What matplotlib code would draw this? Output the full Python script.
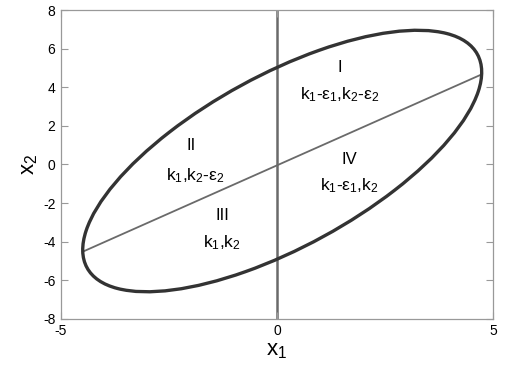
import matplotlib
matplotlib.use("Agg")
import matplotlib.pyplot as plt
from matplotlib.patches import Ellipse

# ellipse (center, full axes lengths, rotation in degrees)
ELL_CENTER = (0.12, 0.18)
ELL_WIDTH = 15.25
ELL_HEIGHT = 6.02
ELL_ANGLE = 60.0

# chord joining the leftmost and rightmost points of the ellipse
chord_x = [-4.50, 4.74]
chord_y = [-4.52, 4.67]

# region labels
region_names = ["I", "II", "III", "IV"]
region_codes = [
    "$k_1$-$ε_1$,$k_2$-$ε_2$",
    "$k_1$,$k_2$-$ε_2$",
    "$k_1$,$k_2$",
    "$k_1$-$ε_1$,$k_2$",
]
name_pos = [(1.45, 5.05), (-2.0, 1.0), (-1.27, -2.65), (1.67, 0.25)]
code_pos = [(1.45, 3.6), (-1.9, -0.6), (-1.27, -4.05), (1.67, -1.1)]

xticks = [-5, 0, 5]
yticks = [-8, -6, -4, -2, 0, 2, 4, 6, 8]

plt.rcParams.update({
    "font.family": ["Liberation Sans", "DejaVu Sans"],
    "mathtext.fontset": "custom",
    "mathtext.rm": "Liberation Sans",
    "mathtext.it": "Liberation Sans",
    "mathtext.default": "regular",
    "axes.unicode_minus": False,
})

fig = plt.figure(figsize=(5.13, 3.73), dpi=100)
ax = fig.add_axes([0.119, 0.145, 0.842, 0.828])

ax.axvline(0, color="#6a6a6a", lw=1.8, zorder=1)
ax.plot(chord_x, chord_y, color="#6a6a6a", lw=1.3, zorder=2)
ax.add_patch(Ellipse(ELL_CENTER, ELL_WIDTH, ELL_HEIGHT, angle=ELL_ANGLE,
                     fill=False, edgecolor="#333333", lw=2.4, zorder=3))

for name, (x, y) in zip(region_names, name_pos):
    ax.text(x, y, name, ha="center", va="center", fontsize=12)
for code, (x, y) in zip(region_codes, code_pos):
    ax.text(x, y, code, ha="center", va="center", fontsize=12.5)

ax.set_xlim(-5, 5)
ax.set_ylim(-8, 8)
ax.set_xticks(xticks)
ax.set_yticks(yticks)
ax.tick_params(direction="in", length=5, width=0.8, color="#999999",
               labelsize=10, top=True, right=True, pad=4)
for sp in ax.spines.values():
    sp.set_color("#999999")
    sp.set_linewidth(0.9)

ax.set_xlabel("$x_1$", fontsize=16, labelpad=1)
ax.set_ylabel("$x_2$", fontsize=16, labelpad=2)

fig.savefig("out.png", dpi=100)
